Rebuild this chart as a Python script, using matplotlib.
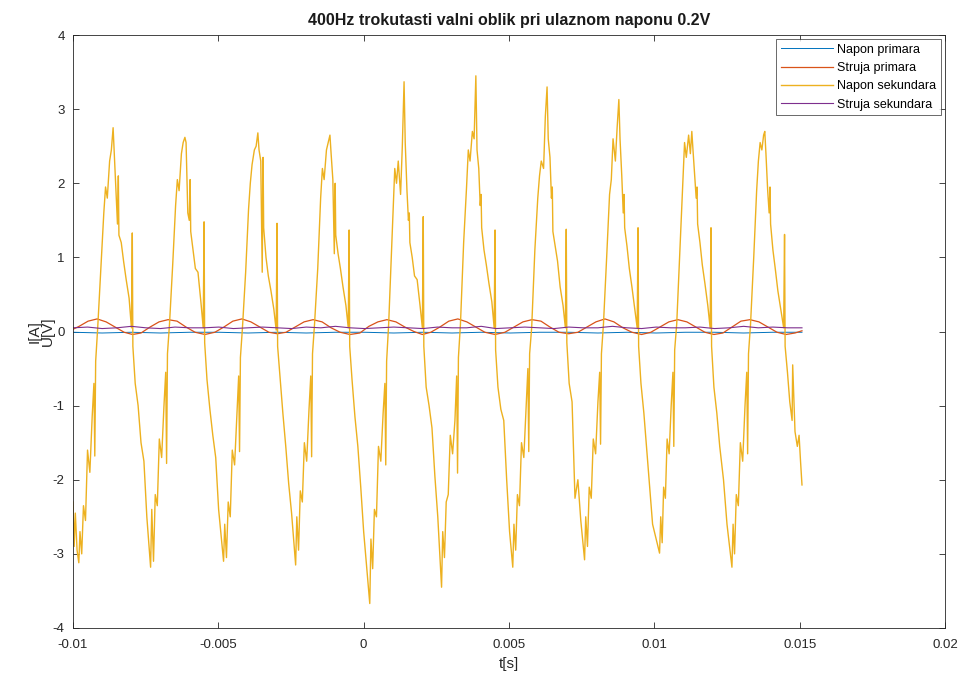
import numpy as np
import matplotlib
matplotlib.use("Agg")
import matplotlib.pyplot as plt

plt.rcParams["font.family"] = ["Liberation Sans", "DejaVu Sans"]
plt.rcParams["axes.unicode_minus"] = False

# time in ms
# Napon sekundara (yellow), one line per period
sek_t = [
    -10.00, -9.96, -9.92, -9.86, -9.80, -9.76, -9.70, -9.64, -9.57, -9.50, -9.42, -9.34, -9.28, -9.25, -9.22, -9.15, -9.04, -8.94, -8.88, -8.82, -8.74, -8.68, -8.62, -8.58, -8.52, -8.47, -8.44, -8.42, -8.34, -8.26, -8.17, -8.07, -7.99, -7.96, -7.94, -7.86, -7.76, -7.66, -7.56, -7.46,
    -7.33, -7.29, -7.23, -7.17, -7.10, -7.03, -6.95, -6.87, -6.81, -6.78, -6.75, -6.68, -6.57, -6.47, -6.41, -6.35, -6.27, -6.21, -6.15, -6.11, -6.05, -6.00, -5.97, -5.95, -5.87, -5.79, -5.70, -5.60, -5.52, -5.49, -5.47, -5.39, -5.29, -5.19, -5.09, -4.99,
    -4.82, -4.78, -4.72, -4.66, -4.59, -4.52, -4.44, -4.36, -4.30, -4.27, -4.24, -4.17, -4.06, -3.96, -3.90, -3.84, -3.76, -3.70, -3.64, -3.60, -3.54, -3.49, -3.46, -3.44, -3.36, -3.28, -3.19, -3.09, -3.01, -2.98, -2.96, -2.88, -2.78, -2.68, -2.58, -2.48,
    -2.34, -2.30, -2.24, -2.18, -2.11, -2.04, -1.96, -1.88, -1.82, -1.79, -1.76, -1.69, -1.58, -1.48, -1.42, -1.36, -1.28, -1.22, -1.16, -1.12, -1.06, -1.01, -0.98, -0.96, -0.88, -0.80, -0.71, -0.61, -0.53, -0.50, -0.48, -0.40, -0.30, -0.20, -0.10, 0.00,
    0.21, 0.25, 0.31, 0.37, 0.44, 0.51, 0.59, 0.67, 0.73, 0.76, 0.79, 0.86, 0.97, 1.07, 1.13, 1.19, 1.27, 1.33, 1.39, 1.43, 1.49, 1.54, 1.57, 1.59, 1.67, 1.75, 1.84, 1.94, 2.02, 2.05, 2.07, 2.15, 2.25, 2.35, 2.45, 2.55,
    2.68, 2.72, 2.78, 2.84, 2.91, 2.98, 3.06, 3.14, 3.20, 3.23, 3.26, 3.33, 3.44, 3.54, 3.60, 3.66, 3.74, 3.80, 3.86, 3.90, 3.96, 4.01, 4.04, 4.06, 4.14, 4.22, 4.31, 4.41, 4.49, 4.52, 4.54, 4.62, 4.72, 4.82, 4.92, 5.02,
    5.13, 5.17, 5.23, 5.29, 5.36, 5.43, 5.51, 5.59, 5.65, 5.68, 5.71, 5.78, 5.89, 5.99, 6.05, 6.11, 6.19, 6.25, 6.31, 6.35, 6.41, 6.46, 6.49, 6.51, 6.59, 6.67, 6.76, 6.86, 6.94, 6.97, 6.99, 7.07, 7.17, 7.27, 7.37, 7.47,
    7.60, 7.64, 7.70, 7.76, 7.83, 7.90, 7.98, 8.06, 8.12, 8.15, 8.18, 8.25, 8.36, 8.46, 8.52, 8.58, 8.66, 8.72, 8.78, 8.82, 8.88, 8.93, 8.96, 8.98, 9.06, 9.14, 9.23, 9.33, 9.41, 9.44, 9.46, 9.54, 9.64, 9.74, 9.84, 9.94,
    10.18, 10.22, 10.27, 10.32, 10.38, 10.44, 10.51, 10.58, 10.64, 10.67, 10.70, 10.77, 10.88, 10.98, 11.04, 11.10, 11.18, 11.24, 11.29, 11.33, 11.39, 11.44, 11.47, 11.49, 11.57, 11.65, 11.74, 11.84, 11.92, 11.95, 11.97, 12.05, 12.15, 12.25, 12.38, 12.50,
    12.67, 12.71, 12.76, 12.82, 12.89, 12.96, 13.04, 13.12, 13.18, 13.21, 13.24, 13.31, 13.42, 13.52, 13.58, 13.64, 13.70, 13.76, 13.80, 13.84, 13.90, 13.95, 13.98, 14.00, 14.08, 14.16, 14.25, 14.35, 14.45, 14.48, 14.50, 14.58, 14.66, 14.74, 14.76, 14.84, 14.92, 14.98, 15.03, 15.08,
]
sek_v = [
    -2.30, -2.90, -2.45, -2.95, -3.12, -2.70, -3.00, -2.35, -2.55, -1.60, -1.90, -1.15, -0.70, -1.68, -0.40, 0.05, 0.85, 1.60, 1.95, 1.80, 2.30, 2.45, 2.75, 2.40, 1.90, 1.45, 2.10, 1.30, 1.20, 0.95, 0.70, 0.45, 0.05, 1.33, -0.20, -0.70, -1.00, -1.50, -1.75, -2.50,
    -3.18, -2.40, -3.10, -2.20, -2.35, -1.45, -1.70, -1.00, -0.55, -1.78, -0.30, 0.10, 0.90, 1.70, 2.05, 1.90, 2.40, 2.55, 2.62, 2.55, 1.60, 1.50, 2.05, 1.35, 1.10, 0.85, 0.80, 0.40, 0.05, 1.48, -0.15, -0.65, -1.05, -1.40, -1.70, -2.40,
    -3.10, -2.60, -3.05, -2.30, -2.50, -1.60, -1.80, -1.10, -0.60, -1.62, -0.35, 0.05, 0.80, 1.65, 2.00, 2.25, 2.45, 2.50, 2.68, 2.45, 2.30, 0.80, 2.35, 1.40, 1.00, 0.75, 0.55, 0.30, 0.02, 1.46, -0.20, -0.60, -1.10, -1.55, -2.05, -2.45,
    -3.15, -2.50, -2.95, -2.15, -2.30, -1.50, -1.75, -1.05, -0.60, -1.69, -0.30, 0.10, 0.85, 1.80, 2.20, 2.05, 2.45, 2.55, 2.65, 2.40, 2.05, 1.05, 2.00, 1.30, 1.05, 0.85, 0.60, 0.35, 0.05, 1.37, -0.20, -0.65, -1.15, -1.55, -2.10, -2.70,
    -3.67, -2.80, -3.20, -2.40, -2.50, -1.55, -1.75, -1.10, -0.70, -1.80, -0.40, 0.10, 1.20, 2.20, 2.00, 2.30, 1.85, 2.50, 3.37, 2.55, 1.90, 1.50, 1.60, 1.20, 1.00, 0.75, 0.70, 0.35, 0.05, 1.55, -0.20, -0.75, -1.00, -1.30, -1.95, -2.50,
    -3.45, -2.70, -3.05, -2.30, -2.20, -1.40, -1.65, -1.20, -0.60, -1.91, -0.35, 0.10, 1.20, 1.95, 2.45, 2.30, 2.70, 2.60, 3.45, 2.45, 2.20, 1.70, 1.85, 1.40, 1.10, 0.90, 0.65, 0.40, 0.05, 1.37, -0.25, -0.75, -1.05, -1.20, -2.00, -2.70,
    -3.18, -2.60, -2.95, -2.20, -2.35, -1.50, -1.70, -1.00, -0.50, -1.62, -0.30, 0.05, 1.10, 1.80, 2.10, 2.30, 2.20, 2.90, 3.30, 2.60, 2.35, 1.80, 1.95, 1.35, 1.15, 0.95, 0.60, 0.35, 0.05, 1.38, -0.15, -0.70, -0.95, -2.25, -2.00, -2.55,
    -3.08, -2.50, -2.90, -2.10, -2.25, -1.45, -1.65, -0.95, -0.55, -1.52, -0.30, 0.10, 1.00, 1.85, 2.05, 2.60, 2.30, 2.75, 3.13, 2.60, 2.10, 1.60, 1.85, 1.40, 1.15, 0.85, 0.60, 0.30, 0.05, 1.40, -0.20, -0.70, -1.10, -1.60, -2.10, -2.60,
    -2.99, -2.50, -2.85, -2.10, -2.25, -1.45, -1.65, -1.00, -0.55, -1.55, -0.25, 0.10, 1.10, 2.00, 2.55, 2.35, 2.65, 2.40, 2.70, 2.45, 2.10, 1.80, 1.95, 1.45, 1.20, 0.90, 0.65, 0.35, 0.05, 1.40, -0.20, -0.75, -1.10, -1.55, -2.00, -2.60,
    -3.18, -2.60, -3.00, -2.20, -2.35, -1.50, -1.75, -1.00, -0.55, -1.65, -0.30, 0.10, 1.00, 1.90, 2.30, 2.55, 2.45, 2.65, 2.70, 2.40, 1.90, 1.60, 1.95, 1.45, 1.10, 0.85, 0.55, 0.30, 0.05, 1.31, -0.20, -0.55, -0.95, -1.20, -0.45, -1.35, -1.55, -1.40, -1.75, -2.07,
]

# Struja primara (red)
prim_i_t = [
    -10.00,
    -9.79, -9.48, -9.17, -8.86, -8.55, -8.24, -7.95, -7.66,
    -7.35, -7.04, -6.73, -6.42, -6.11, -5.80, -5.46, -5.12,
    -4.81, -4.50, -4.19, -3.88, -3.57, -3.26, -2.97, -2.67,
    -2.36, -2.05, -1.74, -1.43, -1.12, -0.81, -0.47, -0.13,
    0.18, 0.49, 0.80, 1.11, 1.42, 1.73, 2.02, 2.31,
    2.62, 2.93, 3.24, 3.55, 3.86, 4.17, 4.52, 4.86,
    5.17, 5.48, 5.79, 6.10, 6.41, 6.72, 7.05, 7.37,
    7.68, 7.99, 8.30, 8.61, 8.92, 9.23, 9.56, 9.88,
    10.19, 10.50, 10.81, 11.12, 11.43, 11.74, 12.05, 12.36,
    12.67, 12.98, 13.29, 13.60, 13.91, 14.22, 14.53, 14.84,
    15.08,
]
prim_i_v = [
    0.03,
    0.07, 0.14, 0.17, 0.13, 0.06, -0.01, -0.04, -0.02,
    0.06, 0.13, 0.16, 0.14, 0.06, -0.01, -0.04, -0.01,
    0.06, 0.14, 0.17, 0.13, 0.06, -0.01, -0.03, -0.01,
    0.06, 0.13, 0.16, 0.13, 0.05, -0.01, -0.04, -0.02,
    0.07, 0.13, 0.16, 0.13, 0.06, 0.00, -0.04, -0.01,
    0.06, 0.14, 0.17, 0.13, 0.06, -0.01, -0.04, -0.01,
    0.06, 0.13, 0.16, 0.14, 0.06, -0.01, -0.03, -0.01,
    0.06, 0.13, 0.17, 0.13, 0.05, -0.01, -0.04, -0.01,
    0.06, 0.13, 0.16, 0.13, 0.06, -0.01, -0.04, -0.02,
    0.06, 0.14, 0.16, 0.13, 0.06, -0.01, -0.04, -0.02,
    0.01,
]

# Napon primara (blue) and Struja sekundara (purple), nearly flat
prim_u_v = [-0.01, -0.02, -0.01, -0.02, -0.01, -0.01, -0.02, -0.01, -0.02, -0.01,
            -0.01, -0.02, -0.01, -0.02, -0.01, -0.02, -0.01, -0.01, -0.02, -0.01,
            -0.02, -0.01, -0.01, -0.02, -0.01, -0.01]
sek_i_v = [0.05, 0.06, 0.04, 0.05, 0.07, 0.05, 0.04, 0.06, 0.05, 0.05,
           0.06, 0.04, 0.05, 0.06, 0.05, 0.04, 0.06, 0.05, 0.07, 0.05,
           0.04, 0.05, 0.06, 0.05, 0.04, 0.06, 0.05, 0.05, 0.07, 0.04,
           0.05, 0.06, 0.05, 0.04, 0.06, 0.05, 0.05, 0.07, 0.05, 0.04,
           0.06, 0.05, 0.05, 0.06, 0.04, 0.05, 0.07, 0.05, 0.06, 0.05,
           0.05]

x_ticks = [-0.01, -0.005, 0, 0.005, 0.01, 0.015, 0.02]
x_tick_labels = ["-0.01", "-0.005", "0", "0.005", "0.01", "0.015", "0.02"]
y_ticks = [-4, -3, -2, -1, 0, 1, 2, 3, 4]

prim_u_t = np.linspace(-10, 15.08, len(prim_u_v))
sek_i_t = np.linspace(-10, 15.08, len(sek_i_v))

fig = plt.figure(figsize=(9.63, 6.73), dpi=100)
ax = fig.add_axes([0.0758, 0.0669, 0.9055, 0.881])

ax.plot(prim_u_t / 1000, prim_u_v, color="#0072BD", lw=0.7, label="Napon primara")
ax.plot(np.array(prim_i_t) / 1000, prim_i_v, color="#D95319", lw=0.9, label="Struja primara")
ax.plot(np.array(sek_t) / 1000, sek_v, color="#EDB120", lw=1.0, label="Napon sekundara")
ax.plot(sek_i_t / 1000, sek_i_v, color="#7E2F8E", lw=0.8, label="Struja sekundara")

ax.set_xlim(-0.01, 0.02)
ax.set_ylim(-4, 4)
ax.set_xticks(x_ticks)
ax.set_xticklabels(x_tick_labels)
ax.set_yticks(y_ticks)
ax.tick_params(direction="in", length=4, width=0.6, top=True, right=True,
               labelsize=9.5, colors="#262626")
ax.tick_params(axis="x", pad=8)
ax.tick_params(axis="y", pad=6)
for s in ax.spines.values():
    s.set_linewidth(0.6)
    s.set_color("#262626")

ax.set_title("400Hz trokutasti valni oblik pri ulaznom naponu 0.2V",
             fontsize=11.5, fontweight="bold", color="#1a1a1a", pad=7)
ax.set_xlabel("t[s]", fontsize=11, color="#262626", labelpad=4)
ax.set_ylabel("I[A]\nU[V]", fontsize=11, color="#262626", linespacing=0.9)
ax.yaxis.set_label_coords(-0.021, 0.5)

leg = ax.legend(loc="upper right", fontsize=9, frameon=True, fancybox=False,
                borderaxespad=0.35, handlelength=4.2, handletextpad=0.3,
                labelspacing=0.5, borderpad=0.35)
leg.get_frame().set_edgecolor("#262626")
leg.get_frame().set_linewidth(0.6)

fig.savefig("out.png", dpi=100, facecolor="white")
